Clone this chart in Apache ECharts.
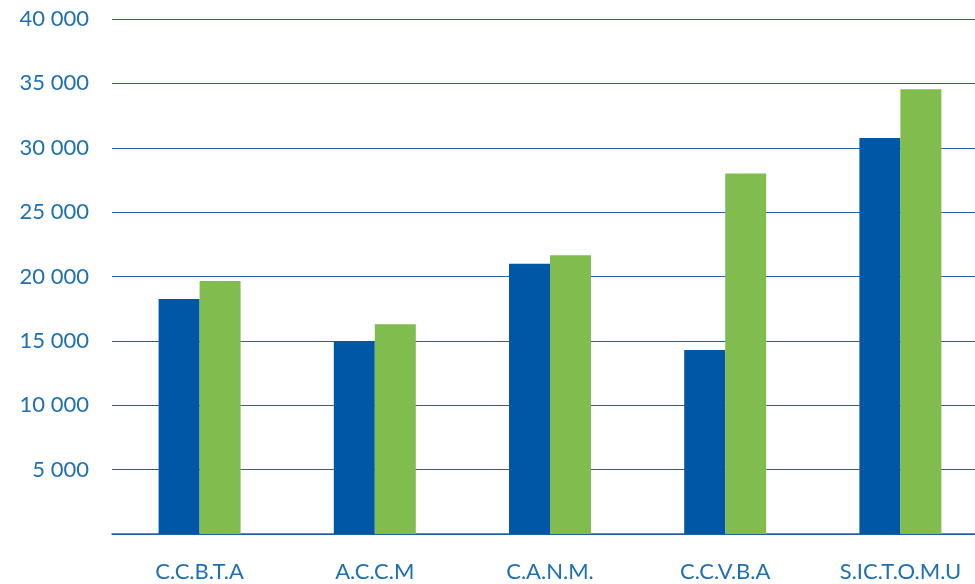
<!DOCTYPE html>
<html>
<head>
<meta charset="utf-8">
<script src="https://cdn.jsdelivr.net/npm/echarts@6/dist/echarts.min.js"></script>
<style>
  html, body { margin: 0; padding: 0; background: #fff; overflow: hidden; }
  #chart { width: 988px; height: 584px; }
</style>
</head>
<body>
<div id="chart"></div>
<script>
const categories = ['C.C.B.T.A', 'A.C.C.M', 'C.A.N.M.', 'C.C.V.B.A', 'S.IC.T.O.M.U']
const seriesBlue = [18250, 15000, 21000, 14300, 30750]
const seriesGreen = [19650, 16300, 21650, 28000, 34550]

const chart = echarts.init(document.getElementById('chart'))
chart.setOption({
  animation: false,
  grid: { left: 112, right: 0, top: 19, bottom: 50 },
  xAxis: {
    type: 'category',
    data: categories,
    axisTick: { show: false },
    axisLine: { lineStyle: { color: '#1f63ab', width: 1.5 } },
    axisLabel: { color: '#1f6fb5', fontFamily: 'Lato', fontSize: 22, margin: 27 }
  },
  yAxis: {
    type: 'value',
    min: 0,
    max: 40000,
    interval: 5000,
    axisLine: { show: false },
    axisTick: { show: false },
    splitLine: { lineStyle: { color: '#1f63ab', width: 1.2 } },
    axisLabel: {
      color: '#1f6fb5', fontFamily: 'Lato', fontSize: 22, margin: 23,
      formatter: v => v === 0 ? '' : String(v).replace(/\B(?=(\d{3})+(?!\d))/g, ' ')
    }
  },
  series: [
    { type: 'bar', data: seriesBlue, barWidth: 41, barGap: '0%', itemStyle: { color: '#0057a6' } },
    { type: 'bar', data: seriesGreen, barWidth: 41, barGap: '0%', itemStyle: { color: '#80bc4e' } }
  ]
})
</script>
</body>
</html>
